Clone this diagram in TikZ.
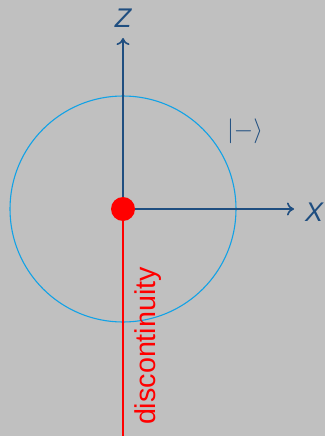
\documentclass[tikz,border=0pt]{standalone}
\usepackage{fontspec}
\setmainfont{Liberation Sans}
\usetikzlibrary{arrows.meta}
\definecolor{axisblue}{HTML}{1F4E80}
\definecolor{circblue}{HTML}{12A2E6}
\definecolor{bg}{HTML}{C0C0C0}
\begin{document}
\begin{tikzpicture}[x=1pt,y=-1pt,
  axis/.style={draw=axisblue,line width=1.8pt,-{To[length=7pt,width=13pt,line width=1.6pt]}},
  lbl/.style={text=axisblue,font=\fontsize{27}{27}\selectfont\itshape,inner sep=0pt}]
\fill[bg] (0,0) rectangle (325,436);
\useasboundingbox (0,0) rectangle (325,436);
\coordinate (o) at (123,209);
\coordinate (zt) at (123,38);
\coordinate (xt) at (294,209);
\coordinate (bot) at (123,436);
\node[lbl] (Z) at (123,18) {Z};
\node[lbl] (X) at (314,212) {X};
\node[text=axisblue,font=\fontsize{27}{27}\selectfont,inner sep=0pt] (ket) at (245,131) {$|{-}\rangle$};
\draw[circblue,line width=1.1pt] (o) circle (113);
\draw[red,line width=1.8pt] (o) -- (bot);
\draw[axis] (o) -- (zt);
\draw[axis] (o) -- (xt);
\fill[red] (o) circle (12);
\node[red,rotate=90,font=\fontsize{28.7}{28.7}\selectfont,anchor=base,inner sep=0pt] (disc) at (155,346) {discontinuity};
\end{tikzpicture}
\end{document}
